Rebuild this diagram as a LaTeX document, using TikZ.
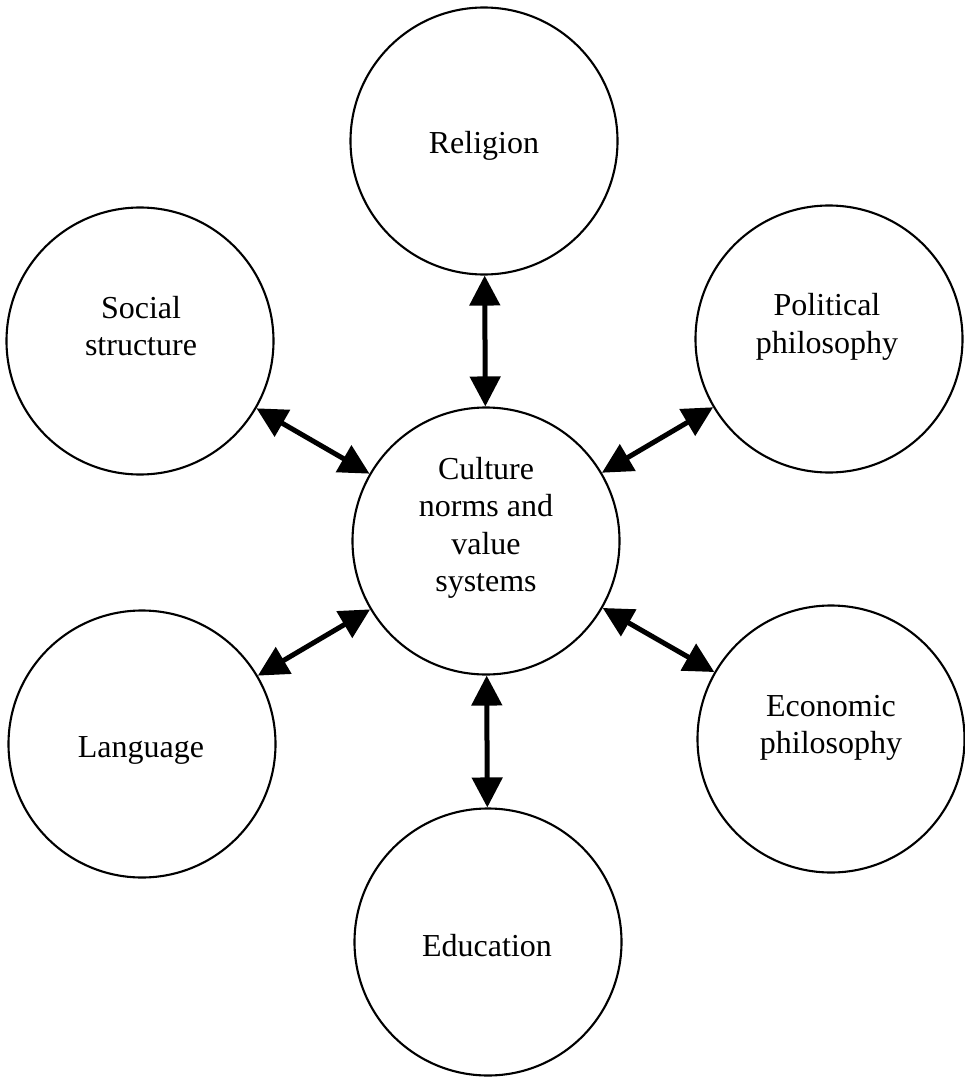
\documentclass[tikz,border=0pt]{standalone}
\usepackage{fontspec}
\setmainfont{Liberation Serif}
\usetikzlibrary{arrows.meta}
\begin{document}
\begin{tikzpicture}[x=1pt,y=-1pt,
  hub/.style={draw, circle, line width=2.1pt, minimum size=267pt, inner sep=0pt},
  caption/.style={align=center, inner sep=0pt, font=\fontsize{32}{37.5}\selectfont},
  link/.style={line width=5pt,
    {Triangle[length=30pt,width=30pt]}-{Triangle[length=30pt,width=30pt]}}]
\useasboundingbox (0,0) rectangle (964,1078);

% circles
\node[hub] (rel) at (484,141) {};
\node[hub] (soc) at (140,341) {};
\node[hub] (pol) at (829,339) {};
\node[hub] (cen) at (486,541) {};
\node[hub] (lan) at (142,744) {};
\node[hub] (eco) at (831,739) {};
\node[hub] (edu) at (488,942) {};

% captions
\node[caption] (relt) at (484,146) {Religion};
\node[caption] (soct) at (141,326) {Social\\structure};
\node[caption] (polt) at (827,327) {Political\\philosophy};
\node[caption] (cent) at (486,528) {Culture\\norms and\\value\\systems};
\node[caption] (lant) at (141,750) {Language};
\node[caption] (ecot) at (831,728) {Economic\\philosophy};
\node[caption] (edut) at (487,946) {Education};

% two-way links to the centre
\draw[link] (rel) -- (cen);
\draw[link] (soc) -- (cen);
\draw[link] (pol) -- (cen);
\draw[link] (lan) -- (cen);
\draw[link] (eco) -- (cen);
\draw[link] (edu) -- (cen);
\end{tikzpicture}
\end{document}
